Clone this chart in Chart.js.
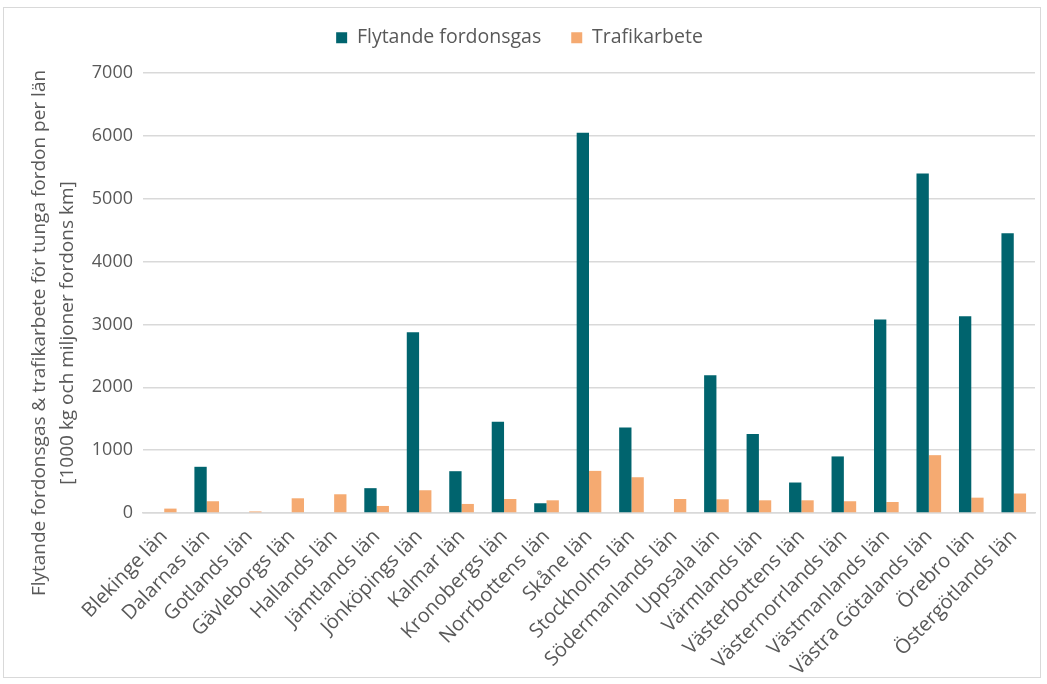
<!DOCTYPE html>
<html>
<head>
<meta charset="utf-8">
<script src="https://cdn.jsdelivr.net/npm/chart.js@4.4.1/dist/chart.umd.min.js"></script>
<style>
  body { margin: 0; background: #fff; }
  #wrap {
    position: absolute; left: 3px; top: 7px;
    width: 1036px; height: 669px;
    border: 1px solid #d9d9d9;
  }
</style>
</head>
<body>
<div id="wrap"><canvas id="chart"></canvas></div>
<script>
// Län (kategorier)
const lan = [
  'Blekinge län', 'Dalarnas län', 'Gotlands län', 'Gävleborgs län', 'Hallands län',
  'Jämtlands län', 'Jönköpings län', 'Kalmar län', 'Kronobergs län', 'Norrbottens län',
  'Skåne län', 'Stockholms län', 'Södermanlands län', 'Uppsala län', 'Värmlands län',
  'Västerbottens län', 'Västernorrlands län', 'Västmanlands län', 'Västra Götalands län',
  'Örebro län', 'Östergötlands län'
];
// Flytande fordonsgas [1000 kg]
const fordonsgas = [0, 735, 0, 0, 0, 395, 2875, 665, 1450, 155, 6050, 1360, 0, 2190, 1255, 485, 900, 3080, 5400, 3130, 4450];
// Trafikarbete [miljoner fordons km]
const trafikarbete = [70, 187, 25, 234, 298, 112, 362, 144, 223, 202, 670, 569, 223, 218, 202, 202, 187, 175, 920, 244, 310];
const yTicks = [0, 1000, 2000, 3000, 4000, 5000, 6000, 7000];
const yTitel = ['Flytande fordonsgas & trafikarbete för tunga fordon per län', '[1000 kg och miljoner fordons km]'];

const textColor = '#595959';
const fontFam = "'Open Sans', 'Noto Sans', sans-serif";

// fast höjd på legenden så att diagramytan hamnar rätt
const legendHeight = {
  id: 'legendHeight',
  afterInit(chart) {
    const lg = chart.legend;
    if (!lg) return;
    const orig = lg.fit;
    lg.fit = function () {
      orig.call(this);
      this.height = 75;
      this.bottom = this.top + 75;
    };
  }
};

// y-axelns titel, lite nedflyttad som i Excel
const yTitlePlugin = {
  id: 'yTitlePlugin',
  afterDraw(chart) {
    const c = chart.ctx;
    const area = chart.chartArea;
    const mid = (area.top + area.bottom) / 2 + 40;
    c.save();
    c.fillStyle = textColor;
    c.font = "19px " + fontFam;
    c.textAlign = 'center';
    c.textBaseline = 'middle';
    const xs = [36, 64];
    yTitel.forEach((line, i) => {
      c.save();
      c.translate(xs[i], mid);
      c.rotate(-Math.PI / 2);
      c.fillText(line, 0, 0);
      c.restore();
    });
    c.restore();
  }
};

const ctx = document.getElementById('chart').getContext('2d');
const chart = new Chart(ctx, {
  type: 'bar',
  data: {
    labels: lan,
    datasets: [
      {
        label: 'Flytande fordonsgas',
        data: fordonsgas,
        backgroundColor: '#00646E',
        categoryPercentage: 0.58,
        barPercentage: 1.0
      },
      {
        label: 'Trafikarbete',
        data: trafikarbete,
        backgroundColor: '#F5AA71',
        categoryPercentage: 0.58,
        barPercentage: 1.0
      }
    ]
  },
  plugins: [legendHeight, yTitlePlugin],
  options: {
    responsive: true,
    maintainAspectRatio: false,
    animation: false,
    layout: { padding: { left: 0, right: 5, top: -10, bottom: 0 } },
    plugins: {
      legend: {
        position: 'top',
        labels: {
          color: textColor,
          font: { family: fontFam, size: 19.5 },
          boxWidth: 11,
          boxHeight: 11,
          padding: 30
        }
      },
      tooltip: { enabled: false }
    },
    scales: {
      x: {
        afterFit: (scale) => { scale.height = 164; },
        grid: { display: false },
        border: { color: '#d9d9d9', width: 1.5 },
        ticks: {
          color: textColor,
          font: { family: fontFam, size: 20 },
          minRotation: 46,
          maxRotation: 46,
          autoSkip: false,
          padding: 4
        }
      },
      y: {
        min: 0,
        max: 7000,
        afterBuildTicks: (scale) => { scale.ticks = yTicks.map(v => ({ value: v })); },
        afterFit: (scale) => { scale.width = 139; },
        grid: { color: '#d9d9d9', lineWidth: 1.5, drawTicks: false },
        border: { display: false },
        ticks: {
          color: textColor,
          font: { family: fontFam, size: 18 },
          padding: 10,
          callback: (v) => String(v)
        },
        title: { display: false }
      }
    }
  }
});
</script>
</body>
</html>
